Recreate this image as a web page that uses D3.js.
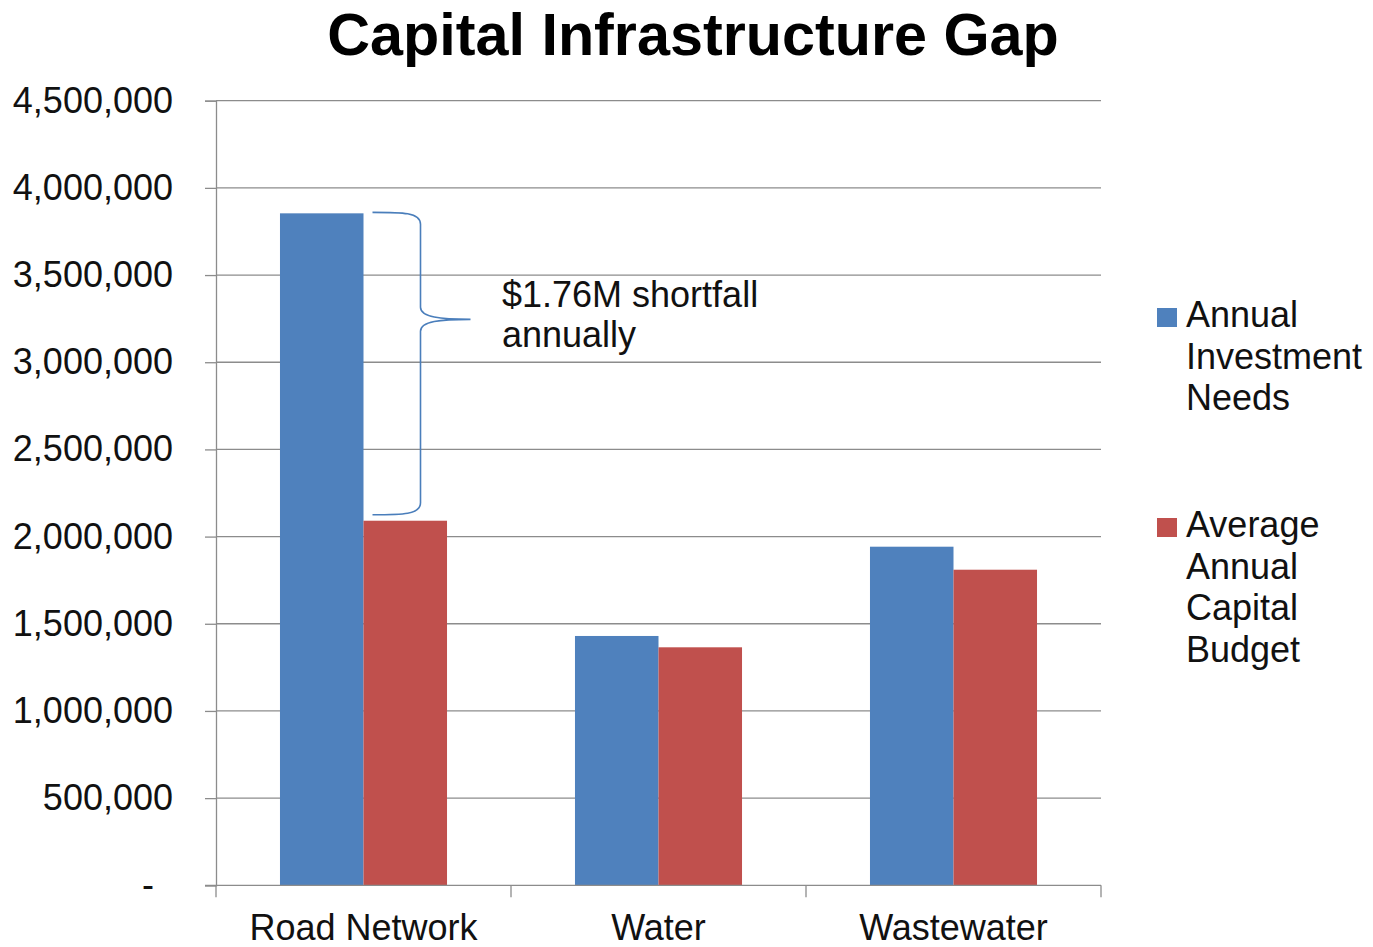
<!DOCTYPE html>
<html>
<head>
<meta charset="utf-8">
<script src="https://cdn.jsdelivr.net/npm/d3@7"></script>
<style>
  html, body { margin: 0; padding: 0; background: #fff; }
  svg { display: block; font-family: "Liberation Sans", Arial, sans-serif; }
</style>
</head>
<body>
<svg id="chart" width="1373" height="947"></svg>
<script>
const categories = ["Road Network", "Water", "Wastewater"];
const seriesNames = ["Annual Investment Needs", "Average Annual Capital Budget"];
const legendLines = [["Annual", "Investment", "Needs"], ["Average", "Annual", "Capital", "Budget"]];
const investmentNeeds = [3854000, 1430000, 1942000];
const capitalBudget = [2091000, 1365000, 1810000];
const yTicks = [0, 500000, 1000000, 1500000, 2000000, 2500000, 3000000, 3500000, 4000000, 4500000];
const titleText = "Capital Infrastructure Gap";
const annotationLines = ["$1.76M shortfall", "annually"];
const colors = ["#4F81BD", "#C0504D"];

const svg = d3.select("#chart");
const plot = { left: 216, right: 1101, top: 100.7, bottom: 885.3 };

const x0 = d3.scaleBand().domain(categories).range([plot.left, plot.right]).padding(0);
const x1 = d3.scaleBand().domain(seriesNames).range([0, x0.bandwidth()]).paddingInner(0).paddingOuter(0.766);
const y = d3.scaleLinear().domain([0, 4500000]).range([plot.bottom, plot.top]);

// title
svg.append("text")
  .attr("x", 693).attr("y", 55)
  .attr("text-anchor", "middle")
  .attr("font-size", 59.3).attr("font-weight", "bold").attr("fill", "#000")
  .text(titleText);

// gridlines
svg.append("g").selectAll("line").data(yTicks.filter(d => d > 0)).join("line")
  .attr("x1", plot.left).attr("x2", plot.right)
  .attr("y1", d => y(d)).attr("y2", d => y(d))
  .attr("stroke", "#8c8c8c").attr("stroke-width", 1.3);

// y axis
const fmt = d3.format(",");
const yAxis = svg.append("g").attr("transform", `translate(${plot.left},0)`)
  .call(d3.axisLeft(y).tickValues(yTicks).tickSize(11).tickPadding(32)
    .tickFormat(d => d === 0 ? "-" : fmt(d)));
yAxis.select(".domain").attr("stroke", "#8c8c8c").attr("stroke-width", 1.3);
yAxis.selectAll(".tick line").attr("stroke", "#8c8c8c").attr("stroke-width", 1.3);
yAxis.selectAll(".tick text")
  .attr("font-size", 36).attr("fill", "#111")
  .attr("font-family", "Liberation Sans, Arial, sans-serif")
  .attr("dx", d => d === 0 ? -19 : 0);

// bars
const rows = categories.map((c, i) => ({ cat: c, vals: [investmentNeeds[i], capitalBudget[i]] }));
const groups = svg.append("g").selectAll("g").data(rows).join("g")
  .attr("transform", d => `translate(${x0(d.cat)},0)`);
groups.selectAll("rect").data(d => d.vals.map((v, j) => ({ s: seriesNames[j], v, j }))).join("rect")
  .attr("x", d => x1(d.s)).attr("width", x1.bandwidth())
  .attr("y", d => y(d.v)).attr("height", d => y(0) - y(d.v))
  .attr("fill", d => colors[d.j]);

// x axis
const xAxisG = svg.append("g").attr("transform", `translate(0,${plot.bottom})`);
xAxisG.append("line").attr("x1", plot.left - 11).attr("x2", plot.right)
  .attr("y1", 0).attr("y2", 0).attr("stroke", "#8c8c8c").attr("stroke-width", 1.3);
const boundaries = categories.map(c => x0(c)).concat([x0(categories[categories.length - 1]) + x0.bandwidth()]);
xAxisG.selectAll("line.tk").data(boundaries).join("line").attr("class", "tk")
  .attr("x1", d => d).attr("x2", d => d).attr("y1", 0).attr("y2", 12)
  .attr("stroke", "#8c8c8c").attr("stroke-width", 1.3);
xAxisG.selectAll("text").data(categories).join("text")
  .attr("x", d => x0(d) + x0.bandwidth() / 2).attr("y", 55)
  .attr("text-anchor", "middle").attr("font-size", 36).attr("fill", "#111")
  .text(d => d);

// brace annotation spanning road network gap
const bx = x0(categories[0]) + x1(seriesNames[1]) + 9;
const topY = y(investmentNeeds[0]) - 1;
const botY = y(capitalBudget[0]) - 6;
const midY = topY + 107;
const cx = bx + 48, tipX = bx + 98;
const bracePath = `M${bx},${topY} C${bx + 30},${topY} ${cx},${topY} ${cx},${topY + 12}
  L${cx},${midY - 12} C${cx},${midY - 2} ${cx + 20},${midY} ${tipX},${midY}
  C${cx + 20},${midY} ${cx},${midY + 2} ${cx},${midY + 12}
  L${cx},${botY - 12} C${cx},${botY} ${bx + 30},${botY} ${bx},${botY}`;
svg.append("path").attr("d", bracePath).attr("fill", "none")
  .attr("stroke", "#4a7ebb").attr("stroke-width", 1.6);

svg.append("g").selectAll("text").data(annotationLines).join("text")
  .attr("x", 502).attr("y", (d, i) => 307 + i * 40)
  .attr("font-size", 36).attr("fill", "#111")
  .text(d => d);

// legend
const legendTops = [327, 537];
const legend = svg.append("g");
seriesNames.forEach((s, i) => {
  legend.append("rect").attr("x", 1157).attr("y", legendTops[i] - 19).attr("width", 20).attr("height", 19)
    .attr("fill", colors[i]);
  legend.append("g").selectAll("text").data(legendLines[i]).join("text")
    .attr("x", 1186).attr("y", (d, k) => legendTops[i] + k * 41.5)
    .attr("font-size", 36).attr("fill", "#111")
    .text(d => d);
});
</script>
</body>
</html>
